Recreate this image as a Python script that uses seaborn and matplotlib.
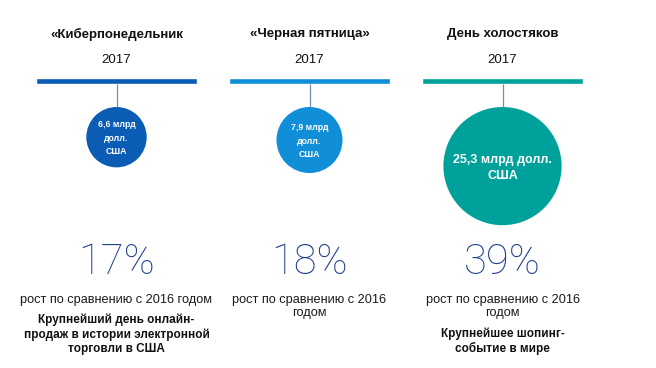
import numpy as np
import matplotlib.pyplot as plt
import seaborn as sns
from matplotlib import font_manager

# ============================================
# DATA
# ============================================
events = ["«Киберпонедельник", "«Черная пятница»", "День холостяков"]
years = ["2017", "2017", "2017"]
sales = [6.6, 7.9, 25.3]  # млрд долл. США
sales_labels = ["6,6 млрд\nдолл.\nСША", "7,9 млрд\nдолл.\nСША", "25,3 млрд долл.\nСША"]
growth = [17, 18, 39]  # % к 2016 году
growth_notes = ["рост по сравнению с 2016 годом",
                "рост по сравнению с 2016\nгодом",
                "рост по сравнению с 2016\nгодом"]
highlights = ["Крупнейший день онлайн-\nпродаж в истории электронной\nторговли в США",
              "",
              "Крупнейшее шопинг-\nсобытие в мире"]
colors = ["#0b5cb4", "#108fd8", "#00a19a"]

# ============================================
# FONTS
# ============================================
sns.set_theme(style="white")
installed = {f.name for f in font_manager.fontManager.ttflist}
body_font = "Liberation Sans" if "Liberation Sans" in installed else "DejaVu Sans"
# thin face for the big percentages
thin_font = "Roboto" if "Roboto" in installed else body_font
plt.rcParams["font.family"] = [body_font, "DejaVu Sans"]

# ============================================
# LAYOUT (x in column units, y in pixels from top)
# ============================================
W, H = 656, 368
col_step = 193.0
first_center = 116.5
fig = plt.figure(figsize=(W / 100, H / 100), dpi=100)
ax = fig.add_axes([0, 0, 1, 1])
ax.set_xlim(-first_center / col_step, (W - first_center) / col_step)
ax.set_ylim(H, 0)
ax.axis("off")

cols = np.arange(len(events))

k = 23.5  # circle diameter in px per sqrt(bn USD)
diam_px = k * np.sqrt(sales)
circle_top = 107

# top colour bars
ax.bar(cols, height=6, bottom=78, width=161 / col_step, color=colors, align="center")

# stems
ax.vlines(cols, 84, circle_top, color="#6f8fb3", linewidth=0.9)

# circles, area proportional to sales
s_min = (k * 0.72) ** 2 * min(sales)
s_max = (k * 0.72) ** 2 * max(sales)
sns.scatterplot(x=cols, y=circle_top + diam_px / 2, hue=events, palette=colors,
                size=sales, sizes=(s_min, s_max), linewidth=0, legend=False, ax=ax)

for i in cols:
    cy = circle_top + diam_px[i] / 2
    big = sales[i] > 20
    ax.text(i, cy + (1.5 if big else 1), sales_labels[i], ha="center", va="center",
            color="white", fontweight="bold", fontsize=9 if big else 6.3,
            linespacing=1.45 if big else 1.6)

    ax.text(i, 34, events[i], ha="center", va="center", fontweight="bold",
            fontsize=9.5, color="#111111")
    ax.text(i, 60, years[i], ha="center", va="center", fontsize=9.5, color="#111111")

    ax.text(i, 262, f"{growth[i]}%", ha="center", va="center", fontsize=30,
            family=[thin_font, "DejaVu Sans"], fontweight=100, color="#1f3f8f")

    ax.text(i, 294, growth_notes[i], ha="center", va="top", fontsize=9.2,
            color="#1a1a1a", linespacing=1.15)
    if highlights[i]:
        y0 = 314 if "\n" not in growth_notes[i] else 327
        ax.text(i, y0, highlights[i], ha="center", va="top", fontsize=8.5,
                fontweight="bold", color="#111111", linespacing=1.2)

plt.savefig("out.png", dpi=100)
